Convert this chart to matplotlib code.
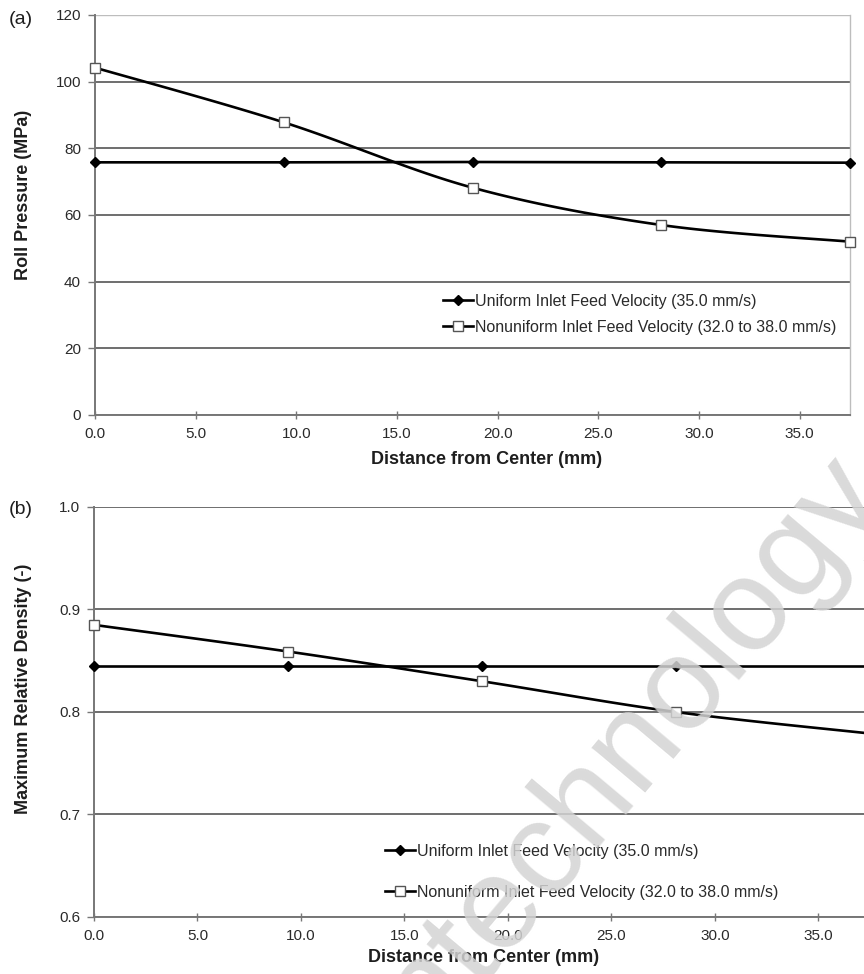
import numpy as np
import matplotlib
matplotlib.use('Agg')
from matplotlib import pyplot as plt
from matplotlib.lines import Line2D

plt.rcParams['font.family'] = ['Liberation Sans', 'DejaVu Sans']

# roll-gap data: distance from roll center vs. pressure / relative density
distance = [0.0, 9.375, 18.75, 28.125, 37.5]
pressure_uniform = [75.8, 75.8, 75.9, 75.8, 75.7]
pressure_nonuniform = [104.2, 87.8, 68.2, 57.0, 52.0]
density_uniform = [0.845, 0.845, 0.845, 0.845, 0.845]
density_nonuniform = [0.885, 0.859, 0.830, 0.800, 0.779]

x_ticks = [0.0, 5.0, 10.0, 15.0, 20.0, 25.0, 30.0, 35.0]
pressure_ticks = [0, 20, 40, 60, 80, 100, 120]
density_ticks = [0.6, 0.7, 0.8, 0.9, 1.0]

label_uniform = 'Uniform Inlet Feed Velocity (35.0 mm/s)'
label_nonuniform = 'Nonuniform Inlet Feed Velocity (32.0 to 38.0 mm/s)'

W, H = 864, 974


def rect(l, r, t, b):
    return [l / W, 1 - b / H, (r - l) / W, (b - t) / H]


def smooth(x, y, n=30):
    # spreadsheet-style smoothed line through the points (cubic Bezier segments)
    x = np.asarray(x, float)
    y = np.asarray(y, float)
    px = np.concatenate([[x[0]], x, [x[-1]]])
    py = np.concatenate([[y[0]], y, [y[-1]]])
    xs, ys = [], []
    t = np.linspace(0, 1, n)
    for i in range(1, len(px) - 2):
        p0 = np.array([px[i], py[i]])
        p3 = np.array([px[i + 1], py[i + 1]])
        c1 = p0 + (np.array([px[i + 1], py[i + 1]]) - np.array([px[i - 1], py[i - 1]])) / 6
        c2 = p3 - (np.array([px[i + 2], py[i + 2]]) - np.array([px[i], py[i]])) / 6
        b = (np.outer((1 - t) ** 3, p0) + np.outer(3 * (1 - t) ** 2 * t, c1)
             + np.outer(3 * (1 - t) * t ** 2, c2) + np.outer(t ** 3, p3))
        xs.append(b[:, 0])
        ys.append(b[:, 1])
    return np.concatenate(xs), np.concatenate(ys)


grid_c = '#6e6e6e'
tick_c = '#2a2a2a'
title_c = '#1e1e1e'

uni_style = dict(color='black', marker='D', markersize=5, markerfacecolor='black',
                 markeredgecolor='black')
non_style = dict(color='black', marker='s', markersize=7, markerfacecolor='white',
                 markeredgecolor='#555555', markeredgewidth=1.0)


def draw_panel(ax, y_uni, y_non, yticks, yfmt, xmax, ymin, ymax):
    ax.set_xlim(0, xmax)
    ax.set_ylim(ymin, ymax)
    ax.set_yticks(yticks)
    ax.set_yticklabels([yfmt % v for v in yticks])
    ax.set_xticks(x_ticks)
    ax.set_xticklabels(['%.1f' % v for v in x_ticks])
    ax.grid(axis='y', color=grid_c, linewidth=1.4)
    ax.set_axisbelow(True)
    for side in ['left', 'bottom']:
        ax.spines[side].set_color('#777777')
        ax.spines[side].set_linewidth(1.4)
    ax.spines['top'].set_visible(False)
    ax.spines['right'].set_color('#bdbdbd')
    ax.spines['right'].set_linewidth(1.0)
    ax.tick_params(axis='y', direction='out', length=5, width=1, color='#777777',
                   labelsize=11, labelcolor=tick_c, pad=5)
    ax.tick_params(axis='x', direction='inout', length=6, width=1, color='#777777',
                   labelsize=11, labelcolor=tick_c, pad=6)

    sx, sy = smooth(distance, y_non)
    ax.plot(distance, y_uni, color='black', linewidth=1.9, clip_on=False, zorder=3)
    ax.plot(sx, sy, color='black', linewidth=1.9, clip_on=False, zorder=3)
    ax.plot(distance, y_uni, linestyle='none', clip_on=False, zorder=4,
            **{k: v for k, v in uni_style.items() if k != 'color'})
    ax.plot(distance, y_non, linestyle='none', clip_on=False, zorder=4,
            **{k: v for k, v in non_style.items() if k != 'color'})


fig = plt.figure(figsize=(W / 100, H / 100), dpi=100)
fig.patch.set_facecolor('white')

ax_a = fig.add_axes(rect(95, 850, 15, 415))
draw_panel(ax_a, pressure_uniform, pressure_nonuniform, pressure_ticks, '%d', 37.5, 0, 120)
ax_a.get_ygridlines()[-1].set_color('#bdbdbd')
ax_a.get_ygridlines()[-1].set_linewidth(1.0)

ax_b = fig.add_axes(rect(94, 870, 507, 917))
draw_panel(ax_b, density_uniform, density_nonuniform, density_ticks, '%.1f', 37.5, 0.6, 1.0)

handles = [Line2D([], [], linewidth=1.9, **uni_style),
           Line2D([], [], linewidth=1.9, **non_style)]

leg_a = fig.legend(handles, [label_uniform, label_nonuniform], loc='upper left',
                   bbox_to_anchor=(443 / W, 1 - 294 / H), frameon=False, fontsize=11.5,
                   handlelength=1.9, handletextpad=0.12, borderpad=0, borderaxespad=0,
                   labelspacing=0.69, numpoints=1)
leg_b = fig.legend(handles, [label_uniform, label_nonuniform], loc='upper left',
                   bbox_to_anchor=(385 / W, 1 - 844 / H), frameon=False, fontsize=11.5,
                   handlelength=1.9, handletextpad=0.12, borderpad=0, borderaxespad=0,
                   labelspacing=1.6, numpoints=1)
for leg in (leg_a, leg_b):
    for t in leg.get_texts():
        t.set_color(tick_c)

fig.text(21 / W, 1 - 19 / H, '(a)', fontsize=14, ha='center', va='center', color=title_c)
fig.text(21 / W, 1 - 510 / H, '(b)', fontsize=14, ha='center', va='center', color=title_c)

fig.text(24 / W, 1 - 195 / H, 'Roll Pressure (MPa)', rotation=90, fontsize=13,
         fontweight='bold', ha='center', va='center', color=title_c)
fig.text(24 / W, 1 - 689 / H, 'Maximum Relative Density (-)', rotation=90, fontsize=13,
         fontweight='bold', ha='center', va='center', color=title_c)
fig.text(487 / W, 1 - 460 / H, 'Distance from Center (mm)', fontsize=13,
         fontweight='bold', ha='center', va='center', color=title_c)
fig.text(484 / W, 1 - 957 / H, 'Distance from Center (mm)', fontsize=13,
         fontweight='bold', ha='center', va='center', color=title_c)

# faint diagonal watermark across the lower panel
fig.text(430 / W, 1 - 1040 / H, 'ntechnology', rotation=50, rotation_mode='anchor',
         fontsize=95, ha='left', va='baseline', color='#d4d4d4', alpha=0.85, zorder=10)

fig.savefig('out.png', dpi=100, facecolor='white')
